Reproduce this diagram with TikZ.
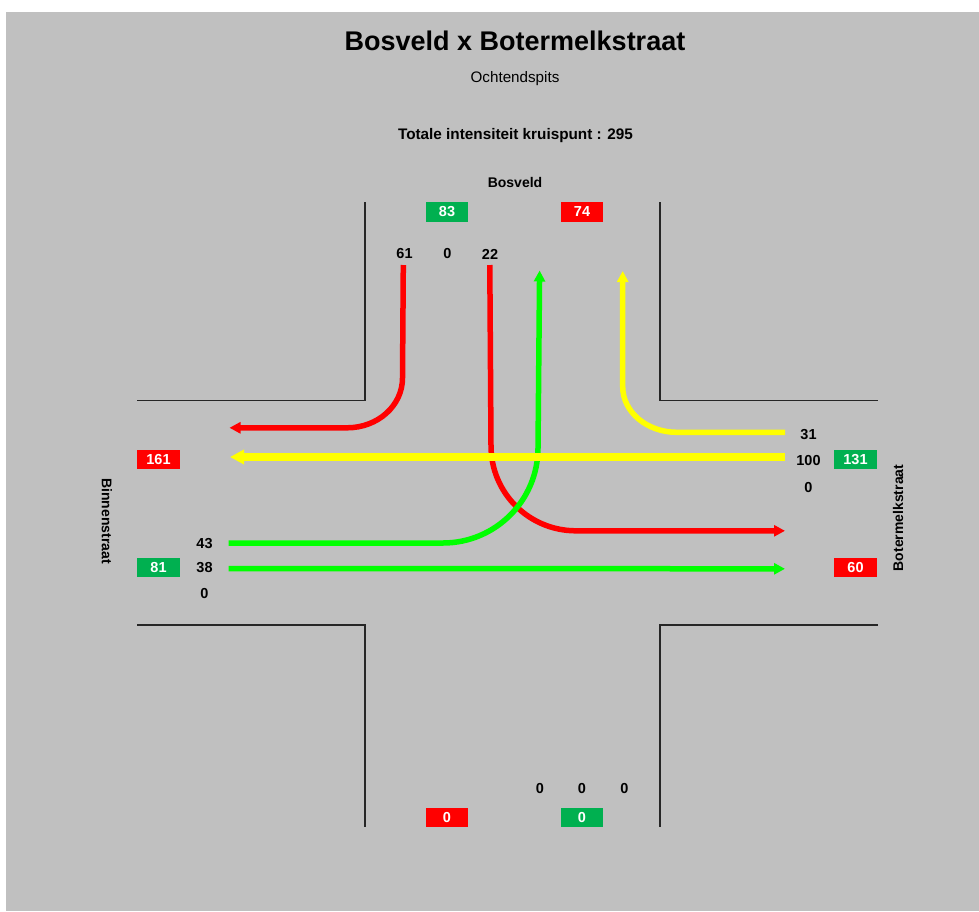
\documentclass[tikz,border=0pt]{standalone}
\usepackage{fontspec}
\setmainfont{Liberation Sans}
\usepackage{tikz}
\usetikzlibrary{arrows.meta, positioning}
\usepackage{xcolor}
\definecolor{bggray}{HTML}{C0C0C0}
\definecolor{curbgray}{HTML}{262626}
\definecolor{boxgreen}{HTML}{00B050}
\definecolor{boxred}{HTML}{FF0000}
\definecolor{flowred}{HTML}{FF0000}
\definecolor{flowgreen}{HTML}{00FF00}
\definecolor{flowyellow}{HTML}{FFFF00}
\tikzset{
  cnt/.style={
    inner sep=0pt, font=\bfseries\fontsize{14.5}{14.5}\selectfont
  },
  tot/.style={
    rectangle, fill=#1, text=white, inner sep=0pt,
    minimum width=42.5pt, minimum height=19.5pt,
    font=\bfseries\fontsize{14.5}{14.5}\selectfont
  },
  street/.style={
    inner sep=0pt, font=\bfseries\fontsize{14}{14}\selectfont
  },
  curb/.style={draw=curbgray, line width=1.8pt},
  flow/.style={
    draw=#1, line width=5.5pt,
    -{Triangle[length=11pt, width=11pt]}
  },
  bigflow/.style={
    draw=#1, line width=7.5pt,
    -{Triangle[length=14pt, width=14pt]}
  }
}

\begin{document}
\begin{tikzpicture}[x=1pt, y=-1pt]

% Canvas
\useasboundingbox (0,0) rectangle (979,911);
\fill[bggray] (6,12) rectangle (979,911);

% Headings
\node[inner sep=0pt, font=\bfseries\fontsize{27}{27}\selectfont]
  (title) at (515,41) {Bosveld x Botermelkstraat};
\node[inner sep=0pt, font=\fontsize{15.2}{15.2}\selectfont]
  (period) at (515,79) {Ochtendspits};
\node[inner sep=0pt, font=\bfseries\fontsize{15.3}{15.3}\selectfont]
  (total) at (515.5,136) {Totale intensiteit kruispunt : 295};

% Street names
\node[street] (stN) at (515,182) {Bosveld};
\node[street, rotate=-90] (stW) at (107,521) {Binnenstraat};
\node[street, rotate=90] (stE) at (898,518) {Botermelkstraat};

% Curbs
\draw[curb] (365,202) -- (365,400.5) -- (137,400.5);
\draw[curb] (660,202) -- (660,400.5) -- (878,400.5);
\draw[curb] (137,625) -- (365,625) -- (365,827);
\draw[curb] (878,625) -- (660,625) -- (660,827);

% Totals per arm (green = in, red = out)
\node[tot=boxgreen] (inN) at (447,212) {83};
\node[tot=boxred] (outN) at (582,212) {74};
\node[tot=boxred] (outW) at (158.5,459.5) {161};
\node[tot=boxgreen] (inW) at (158.5,567.5) {81};
\node[tot=boxgreen] (inE) at (855.5,459.5) {131};
\node[tot=boxred] (outE) at (855.5,567.5) {60};
\node[tot=boxred] (outS) at (447,817.5) {0};
\node[tot=boxgreen] (inS) at (582,817.5) {0};

% Counts per movement
\node[cnt] (cN61) at (404.5,254) {61};
\node[cnt] (cN0) at (447.5,254) {0};
\node[cnt] (cN22) at (490,254) {22};
\node[cnt] (cE31) at (808.5,434.5) {31};
\node[cnt] (cE100) at (808.5,460.5) {100};
\node[cnt] (cE0) at (808.5,487) {0};
\node[cnt] (cW43) at (204.5,543.5) {43};
\node[cnt] (cW38) at (204.5,568) {38};
\node[cnt] (cW0) at (204.5,593.5) {0};
\node[cnt] (cS0a) at (540,788.5) {0};
\node[cnt] (cS0b) at (582,788.5) {0};
\node[cnt] (cS0c) at (624.5,788.5) {0};

% Flow end points
\coordinate (a61) at (403.3,265);
\coordinate (b61) at (229.5,427.8);
\coordinate (a22) at (489.8,265);
\coordinate (b22) at (785,530.8);
\coordinate (a43) at (228.5,543);
\coordinate (b43) at (539.6,270.5);
\coordinate (a38) at (228.5,568.5);
\coordinate (b38) at (785,568.8);
\coordinate (a31) at (785,432.3);
\coordinate (b31) at (622.7,271);
\coordinate (a100) at (785,457);
\coordinate (b100) at (230,457);

% Flows
\draw[flow=flowred] (a61) -- (402.5,378)
  .. controls (402.5,405.5) and (378,427.8) .. (347,427.8) -- (b61);
\draw[flow=flowred] (a22) -- (491,446)
  .. controls (491,493) and (529,530.8) .. (576,530.8) -- (b22);
\draw[flow=flowgreen] (a43) -- (443,543)
  .. controls (495.4,543) and (538,500.4) .. (538,448) -- (b43);
\draw[flow=flowgreen] (a38) -- (b38);
\draw[flow=flowyellow] (a31) -- (676.7,432.3)
  .. controls (646.9,432.3) and (622.7,411.9) .. (622.7,386.7) -- (b31);
\draw[bigflow=flowyellow] (a100) -- (b100);

\end{tikzpicture}
\end{document}
